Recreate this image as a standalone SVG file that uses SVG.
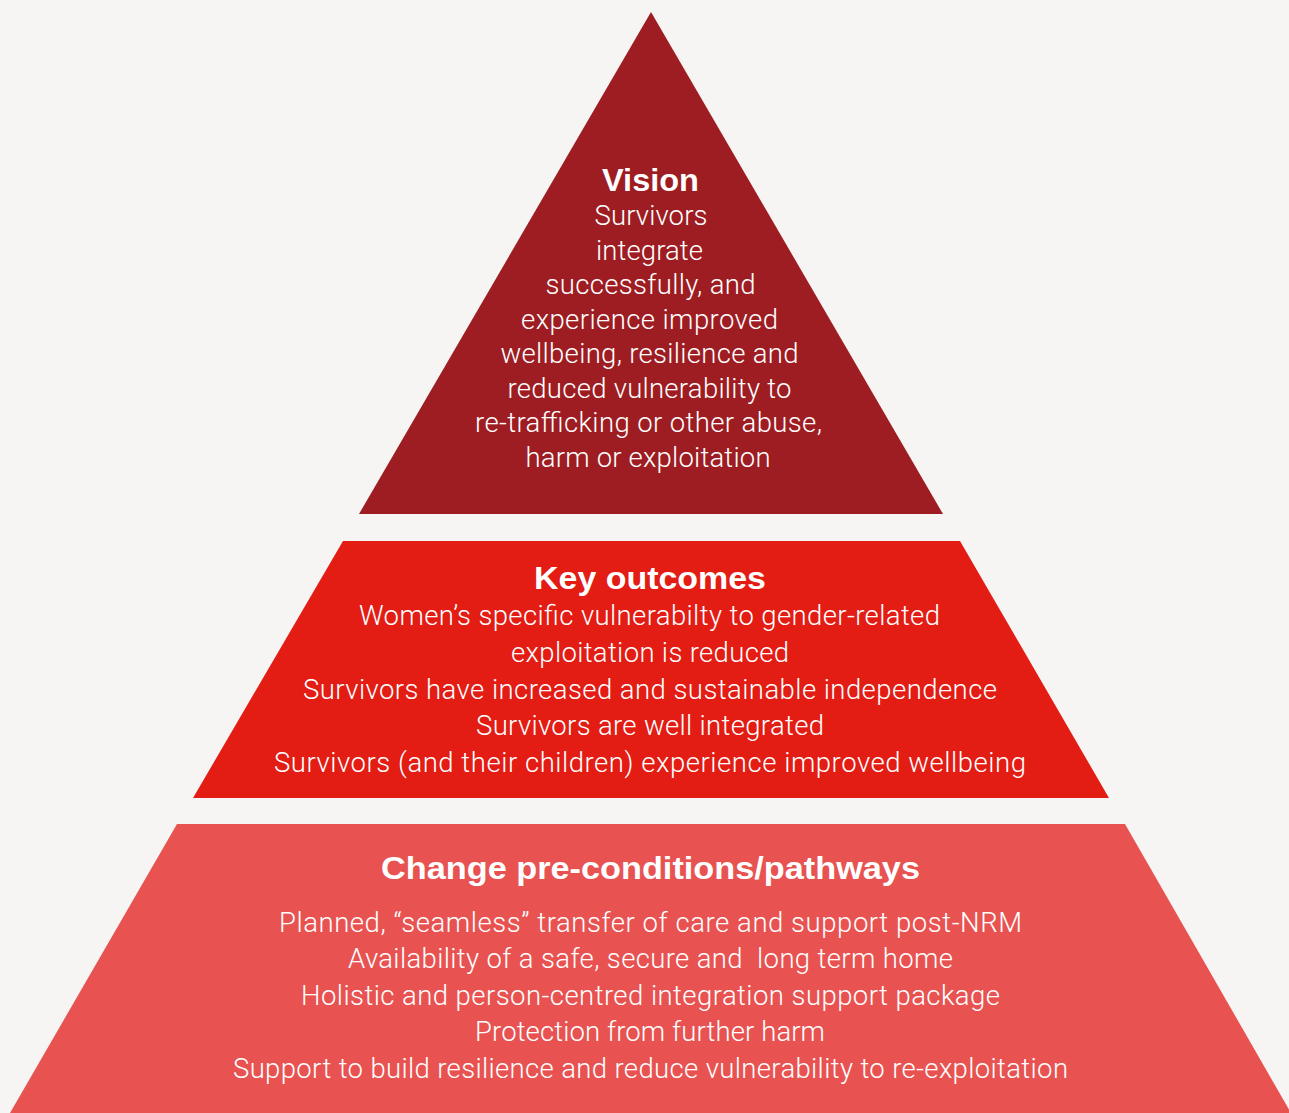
<svg xmlns="http://www.w3.org/2000/svg" width="1289" height="1113" viewBox="0 0 1289 1113">
  <style>
    .t { font-family: Roboto, "Liberation Sans", Arial, sans-serif; font-weight: 300; font-size: 27.5px; fill: #ffffff; text-anchor: middle; }
    .h { font-family: "Liberation Sans", Arial, sans-serif; font-weight: 700; fill: #ffffff; text-anchor: middle; }
  </style>
  <rect x="0" y="0" width="1289" height="1113" fill="#F7F5F3"/>
  <g id="vision">
    <polygon points="651,12 943,514 359,514" fill="#9E1D22"/>
    <text class="h" x="650.5" y="191" font-size="31" textLength="97" lengthAdjust="spacingAndGlyphs">Vision</text>
    <text class="t" x="651" y="225" textLength="113">Survivors</text>
    <text class="t" x="649.5" y="259.5" textLength="107">integrate</text>
    <text class="t" x="650.5" y="294" textLength="210">successfully, and</text>
    <text class="t" x="649.5" y="328.5" textLength="257">experience improved</text>
    <text class="t" x="649.5" y="363" textLength="298">wellbeing, resilience and</text>
    <text class="t" x="649.5" y="397.5" textLength="284">reduced vulnerability to</text>
    <text class="t" x="648.5" y="432" textLength="347">re-trafficking or other abuse,</text>
    <text class="t" x="648" y="466.5" textLength="245">harm or exploitation</text>
  </g>
  <g id="key-outcomes">
    <polygon points="343,541 960,541 1109,798 193,798" fill="#E31C14"/>
    <text class="h" x="650" y="589" font-size="31" textLength="232" lengthAdjust="spacingAndGlyphs">Key outcomes</text>
    <text class="t" x="649.5" y="625" textLength="581">Women’s specific vulnerabilty to gender-related</text>
    <text class="t" x="650" y="661.5" textLength="278">exploitation is reduced</text>
    <text class="t" x="650" y="698.5" textLength="694">Survivors have increased and sustainable independence</text>
    <text class="t" x="650" y="735" textLength="348">Survivors are well integrated</text>
    <text class="t" x="650" y="772" textLength="752">Survivors (and their children) experience improved wellbeing</text>
  </g>
  <g id="change-pathways">
    <polygon points="177,824 1125,824 1291,1113 10,1113" fill="#E85352"/>
    <text class="h" x="650.5" y="879" font-size="31" textLength="539" lengthAdjust="spacingAndGlyphs">Change pre-conditions/pathways</text>
    <text class="t" x="650.5" y="931.5" textLength="743">Planned, “seamless” transfer of care and support post-NRM</text>
    <text class="t" x="650.5" y="968" textLength="605" xml:space="preserve">Availability of a safe, secure and  long term home</text>
    <text class="t" x="650.5" y="1004.5" textLength="699">Holistic and person-centred integration support package</text>
    <text class="t" x="650" y="1041" textLength="350">Protection from further harm</text>
    <text class="t" x="650.5" y="1077.5" textLength="835">Support to build resilience and reduce vulnerability to re-exploitation</text>
  </g>
  <g id="connectors"/>
</svg>
